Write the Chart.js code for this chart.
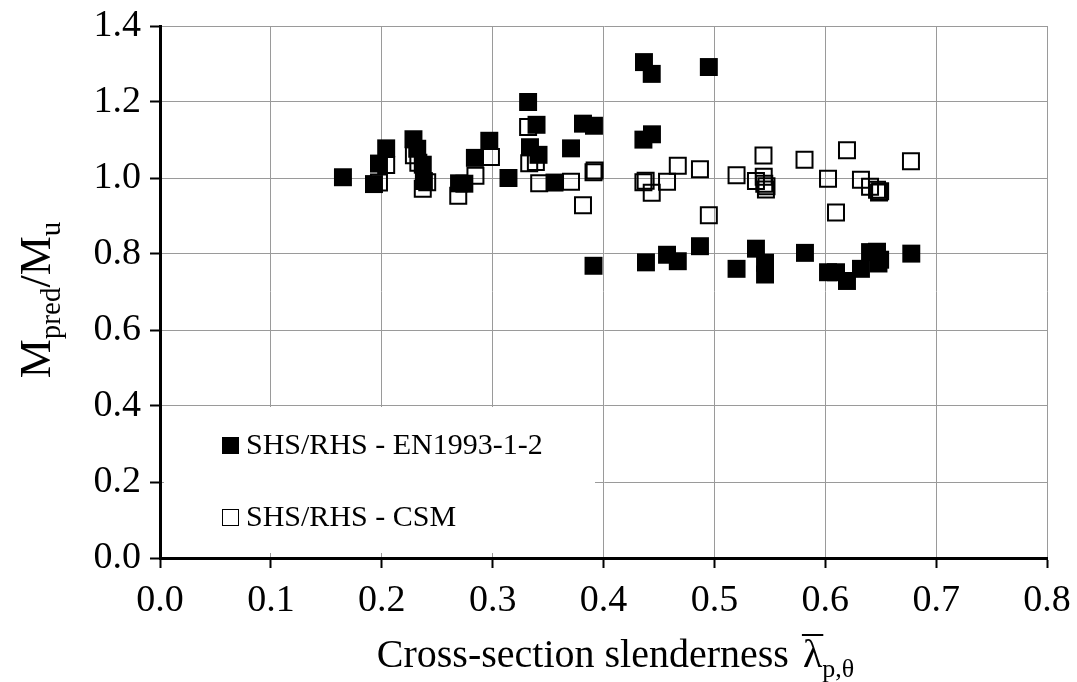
<!DOCTYPE html>
<html><head><meta charset="utf-8">
<script src="https://cdn.jsdelivr.net/npm/chart.js@4.4.1/dist/chart.umd.min.js"></script>
<style>html,body{margin:0;padding:0;background:#fff;}</style>
</head><body>
<canvas id="c" width="1077" height="682"></canvas>
<script>
// ---- data ----
const seriesNames = ['SHS/RHS - EN1993-1-2', 'SHS/RHS - CSM'];
const enX = [0.165,0.193,0.1975,0.204,0.2286,0.232,0.237,0.238,0.2697,0.2745,0.284,0.297,0.3143,0.332,0.3396,0.3337,0.3414,0.3558,0.3707,0.3815,0.3914,0.391,0.4365,0.4435,0.495,0.436,0.4437,0.4383,0.4573,0.467,0.487,0.520,0.5375,0.5457,0.5457,0.5817,0.6025,0.6097,0.6196,0.6322,0.6404,0.6467,0.6495,0.648,0.6776];
const enY = [1.002,0.984,1.038,1.078,1.102,1.077,1.035,0.992,0.986,0.985,1.053,1.098,1.000,1.200,1.140,1.081,1.061,0.988,1.078,1.143,1.1375,0.769,1.305,1.274,1.292,1.101,1.115,0.778,0.798,0.781,0.8205,0.761,0.814,0.777,0.746,0.803,0.752,0.752,0.729,0.761,0.805,0.806,0.785,0.775,0.801];
const csmX = [0.1975,0.204,0.229,0.233,0.237,0.241,0.269,0.2845,0.2985,0.332,0.333,0.339,0.342,0.3707,0.3815,0.391,0.392,0.436,0.438,0.4435,0.4573,0.467,0.487,0.495,0.520,0.5375,0.5443,0.5445,0.545,0.5465,0.547,0.5813,0.6196,0.6025,0.6322,0.6404,0.6467,0.6485,0.6495,0.6773,0.6097];
const csmY = [0.988,1.034,1.06,1.04,0.972,0.989,0.953,1.006,1.055,1.134,1.039,1.042,0.986,0.990,0.928,1.015,1.020,0.989,0.993,0.961,0.990,1.032,1.023,0.902,1.007,0.992,1.059,1.003,0.985,0.970,0.978,1.048,1.073,0.998,0.9955,0.977,0.969,0.962,0.965,1.044,0.909];
const xTickValues = [0,0.1,0.2,0.3,0.4,0.5,0.6,0.7,0.8];
const yTickValues = [0,0.2,0.4,0.6,0.8,1.0,1.2,1.4];

const FONT = 'Liberation Serif';
const toPts = (xs, ys) => xs.map((x, i) => ({x: x, y: ys[i]}));

const overlayPlugin = {
  id: 'overlay',
  beforeDatasetsDraw(chart) {
    const ctx = chart.ctx, a = chart.chartArea;
    const bx = a.left + 4, by = a.top + 381, bw = 431, bh = 146;
    ctx.save();
    ctx.fillStyle = '#fff';
    ctx.fillRect(bx, by, bw, bh);
    ctx.restore();
  },
  afterDraw(chart) {
    const ctx = chart.ctx, a = chart.chartArea;
    ctx.save();
    // legend items
    const items = chart.data.datasets;
    const lx = a.left + 62, ly0 = a.top + 419, lgap = 72;
    ctx.font = '30px "' + FONT + '"';
    ctx.textBaseline = 'middle';
    items.forEach((ds, i) => {
      const cy = ly0 + i * lgap;
      if (i === 0) { ctx.fillStyle = '#000'; ctx.fillRect(lx, cy - 8, 17, 17); }
      else { ctx.strokeStyle = '#000'; ctx.lineWidth = 1; ctx.strokeRect(lx + 0.5, cy - 7.5, 16, 16); }
      ctx.fillStyle = '#000';
      ctx.textAlign = 'left';
      ctx.fillText(ds.label, lx + 24, cy + 1);
    });
    // x title with overlined lambda and subscript
    const main = '40px "' + FONT + '"', sub = '26px "' + FONT + '"';
    const t1 = 'Cross-section slenderness ', lam = 'λ', s1 = 'p,θ';
    ctx.font = main; const w1 = ctx.measureText(t1).width, wl = ctx.measureText(lam).width;
    ctx.font = sub; const ws = ctx.measureText(s1).width;
    const tot = w1 + wl + ws;
    let x0 = (a.left + a.right) / 2 - tot / 2 + 10;
    const base = 667;
    ctx.textAlign = 'left'; ctx.textBaseline = 'alphabetic'; ctx.fillStyle = '#000';
    ctx.font = main; ctx.fillText(t1, x0, base);
    const lamX = x0 + w1 + 4;
    ctx.fillText(lam, lamX, base);
    ctx.strokeStyle = '#000'; ctx.lineWidth = 2;
    ctx.beginPath(); ctx.moveTo(lamX - 1, base - 32); ctx.lineTo(lamX + wl + 1, base - 32); ctx.stroke();
    ctx.font = sub; ctx.fillText(s1, lamX + wl, base + 10);
    // y title rotated: M_pred/M_u
    ctx.translate(50, (a.top + a.bottom) / 2 + 8);
    ctx.rotate(-Math.PI / 2);
    const mainY = '44px "' + FONT + '"', subY = '29px "' + FONT + '"';
    const parts = [['M', mainY, 0], ['pred', subY, 10], ['/M', mainY, 0], ['u', subY, 10]];
    let tw = 0;
    parts.forEach(p => { ctx.font = p[1]; tw += ctx.measureText(p[0]).width; });
    let px = -tw / 2;
    parts.forEach(p => { ctx.font = p[1]; ctx.fillText(p[0], px, p[2]); px += ctx.measureText(p[0]).width; });
    ctx.restore();
  }
};

new Chart(document.getElementById('c'), {
  type: 'scatter',
  data: {
    datasets: [
      { label: seriesNames[0], data: toPts(enX, enY), pointStyle: 'rect', pointRadius: 12.7, pointHoverRadius: 12.7,
        backgroundColor: '#000', borderColor: '#000', borderWidth: 0 },
      { label: seriesNames[1], data: toPts(csmX, csmY), pointStyle: 'rect', pointRadius: 11.3, pointHoverRadius: 11.3,
        backgroundColor: 'rgba(255,255,255,0)', borderColor: '#000', borderWidth: 2 }
    ]
  },
  options: {
    responsive: false, animation: false, devicePixelRatio: 1,
    layout: { padding: { top: 26, right: 30, left: 0, bottom: 0 } },
    plugins: { legend: { display: false }, tooltip: { enabled: false } },
    scales: {
      x: {
        type: 'linear', min: 0, max: 0.8,
        afterBuildTicks: s => { s.ticks = xTickValues.map(v => ({value: v})); },
        afterFit: s => { s.height = 124; s.paddingLeft = 0; s.paddingRight = 0; },
        grid: { color: '#9a9a9a', lineWidth: 1, tickLength: 10, tickColor: '#000', tickWidth: 2 },
        border: { color: '#000', width: 3 },
        ticks: { color: '#000', font: { family: FONT, size: 38 }, padding: 10, callback: v => Number(v).toFixed(1), maxRotation: 0 }
      },
      y: {
        type: 'linear', min: 0, max: 1.4,
        afterBuildTicks: s => { s.ticks = yTickValues.map(v => ({value: v})); },
        afterFit: s => { s.width = 160; s.paddingTop = 0; s.paddingBottom = 0; },
        grid: { color: '#9a9a9a', lineWidth: 1, tickLength: 10, tickColor: '#000', tickWidth: 2 },
        border: { color: '#000', width: 3 },
        ticks: { color: '#000', font: { family: FONT, size: 38 }, padding: 9, callback: v => Number(v).toFixed(1) }
      }
    }
  },
  plugins: [overlayPlugin]
});
</script>
</body></html>
